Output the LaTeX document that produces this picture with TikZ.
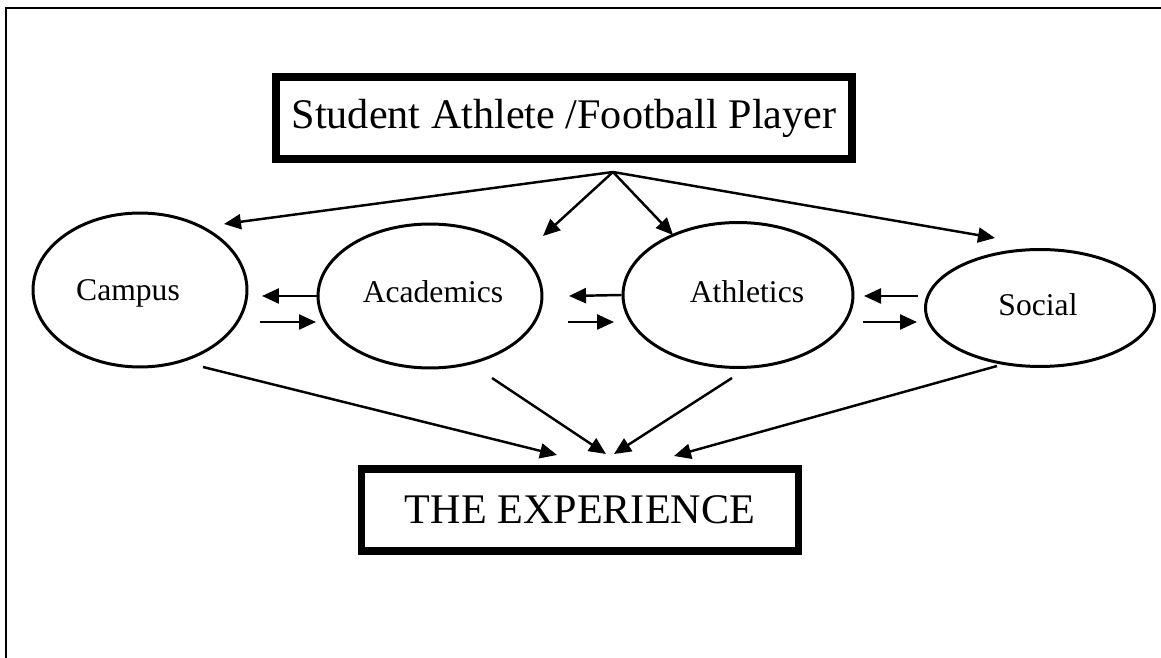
\documentclass[tikz,border=0pt]{standalone}
\usepackage{fontspec}
\setmainfont{Liberation Serif}
\usetikzlibrary{arrows.meta,shapes.geometric}

\begin{document}
\begin{tikzpicture}[x=0.02cm,y=-0.02cm,
        sphere/.style={ellipse,draw,line width=1.7pt,inner sep=0pt},
        word/.style={font=\fontsize{18}{20}\selectfont},
        bigbox/.style={rectangle,draw,line width=4.5pt,inner sep=0pt,font=\fontsize{24}{28}\selectfont},
        arr/.style={line width=1.4pt,-{Triangle[length=0.34cm,width=0.3cm]}}]
        \useasboundingbox (0,0) rectangle (1161,658);
        \draw[line width=1.3pt] (6,658) -- (6,8) -- (1161,8);

        \node[bigbox,minimum width=11.54cm,minimum height=1.64cm] at (564,118) (player) {Student Athlete /Football Player};
        \node[bigbox,minimum width=8.74cm,minimum height=1.64cm] at (580,510) (exp) {THE EXPERIENCE};

        \node[sphere,minimum width=4.28cm,minimum height=3.08cm,
            label={[word,xshift=-0.24cm,yshift=-0.06cm]center:Campus}] at (140,290) (campus) {};
        \node[sphere,minimum width=4.48cm,minimum height=2.88cm,
            label={[word,xshift=0.06cm,yshift=0.08cm]center:Academics}] at (430,296) (acad) {};
        \node[sphere,minimum width=4.60cm,minimum height=2.90cm,
            label={[word,xshift=0.18cm,yshift=0.06cm]center:Athletics}] at (738,295) (ath) {};
        \node[sphere,minimum width=4.58cm,minimum height=2.34cm,
            label={[word,xshift=-0.04cm,yshift=0.06cm]center:Social}] at (1040,308) (social) {};

        % from the player down to the four areas
        \coordinate (fan) at (613,172);
        \coordinate (campus-in) at (224,224);
        \coordinate (acad-in) at (543,236);
        \coordinate (ath-in) at (673,235);
        \coordinate (social-in) at (995,238);
        \draw[arr] (fan) -- (campus-in);
        \draw[arr] (fan) -- (acad-in);
        \draw[arr] (fan) -- (ath-in);
        \draw[arr] (fan) -- (social-in);

        % back and forth between the areas
        \coordinate (ca-l) at (262,296);
        \coordinate (ca-a) at (260,322);
        \coordinate (ca-b) at (316,322);
        \coordinate (aa-l) at (569,296);
        \coordinate (aa-a) at (568,322);
        \coordinate (aa-b) at (614,322);
        \coordinate (as-r) at (918,296);
        \coordinate (as-l) at (864,296);
        \coordinate (as-a) at (863,322);
        \coordinate (as-b) at (917,322);
        \draw[arr] (acad.west) -- (ca-l);
        \draw[arr] (ca-a) -- (ca-b);
        \draw[arr] (ath.west) -- (aa-l);
        \draw[arr] (aa-a) -- (aa-b);
        \draw[arr] (as-r) -- (as-l);
        \draw[arr] (as-a) -- (as-b);

        % into the experience
        \coordinate (campus-out) at (203,367);
        \coordinate (acad-out) at (492,378);
        \coordinate (ath-out) at (732,378);
        \coordinate (social-out) at (997,366);
        \coordinate (exp-1) at (557,455);
        \coordinate (exp-2) at (606,454);
        \coordinate (exp-3) at (614,454);
        \coordinate (exp-4) at (674,456);
        \draw[arr] (campus-out) -- (exp-1);
        \draw[arr] (acad-out) -- (exp-2);
        \draw[arr] (ath-out) -- (exp-3);
        \draw[arr] (social-out) -- (exp-4);
    \end{tikzpicture}
\end{document}
